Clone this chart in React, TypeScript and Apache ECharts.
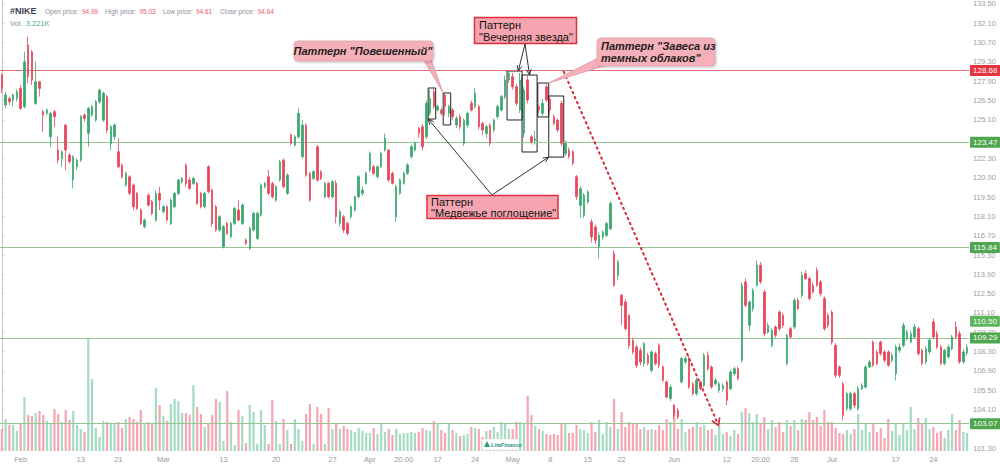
import React, { useEffect, useRef } from "react";
import * as echarts from "echarts";

// ---------- DATA ----------
// candles: [open, close, low, high]
const candles: number[][] = [
  [128.35,127.38,127.02,128.47],[126.17,126.90,125.93,127.14],[126.65,126.41,126.17,126.78],[126.53,126.90,126.05,127.00],
  [126.65,127.14,126.41,127.30],[127.38,125.93,125.81,127.62],[126.05,129.31,125.93,130.04],[130.52,128.23,127.74,131.13],
  [130.04,127.98,127.62,130.16],[126.29,127.86,126.17,129.31],[127.86,127.38,126.78,127.91],[125.69,125.45,124.24,125.81],
  [125.57,125.81,125.45,125.93],[123.87,125.57,123.15,125.69],[125.69,125.33,124.60,125.81],[122.91,122.18,121.94,123.87],
  [122.30,122.79,121.70,122.86],[124.72,122.91,121.46,124.77],[122.55,122.06,121.94,122.67],[120.73,122.43,120.13,122.55],
  [121.70,122.18,121.46,122.30],[122.18,125.33,122.06,125.45],[125.45,125.20,124.96,125.57],[124.12,125.93,123.15,126.05],
  [125.45,126.05,125.33,126.17],[125.08,126.41,124.96,126.53],[126.41,127.26,126.29,127.38],[125.08,127.02,124.96,127.14],
  [126.78,124.36,124.12,126.90],[123.39,124.60,122.91,124.72],[123.87,124.72,123.63,124.84],[122.79,121.70,121.58,123.75],
  [121.82,120.97,120.85,121.94],[120.37,121.22,120.25,121.34],[120.97,119.77,119.64,121.09],[120.37,118.80,118.56,120.49],
  [119.77,118.68,118.56,119.89],[118.56,117.59,117.47,118.68],[117.35,117.83,117.23,117.95],[119.64,118.92,118.80,119.77],
  [119.16,118.32,118.19,119.28],[117.83,119.77,117.71,120.01],[119.77,119.28,118.56,120.25],[118.44,118.80,118.32,118.92],
  [118.80,117.83,117.71,118.92],[117.59,119.28,117.47,119.40],[118.80,119.77,118.68,119.89],[119.77,120.73,119.64,120.85],
  [120.61,120.85,120.49,120.97],[121.82,120.49,120.25,121.94],[120.73,120.13,120.01,120.97],[120.49,120.85,120.37,120.97],
  [120.49,119.04,118.92,120.61],[119.77,118.80,118.68,119.89],[118.80,119.77,118.68,119.89],[121.70,119.89,119.77,121.82],
  [120.01,117.59,117.35,120.13],[118.80,117.11,116.99,118.92],[117.11,118.07,116.99,118.19],[115.90,117.35,115.78,117.47],
  [117.59,116.86,116.74,117.71],[116.62,117.59,116.50,117.71],[117.59,118.68,117.47,118.80],[118.56,117.83,117.71,119.28],
  [117.59,118.92,117.47,119.04],[116.38,116.14,116.02,116.50],[115.78,117.23,115.66,117.35],[117.11,118.32,116.99,118.44],
  [116.50,118.32,116.38,118.44],[118.19,120.37,118.07,120.49],[120.25,120.49,120.13,120.61],[120.97,119.77,119.64,121.46],
  [120.49,119.52,119.40,120.61],[119.28,120.25,119.16,120.37],[120.73,122.06,120.61,122.18],[122.18,120.25,120.13,122.30],
  [119.77,121.09,119.64,121.22],[124.00,123.39,123.27,124.12],[123.27,123.87,123.15,124.00],[123.87,125.57,123.75,125.93],
  [122.43,124.72,122.30,125.08],[124.72,121.09,120.97,124.84],[121.22,119.28,119.16,121.34],[120.85,121.34,120.73,121.46],
  [123.15,120.73,120.61,123.27],[121.34,120.85,120.73,121.46],[119.52,120.49,119.40,120.61],[120.49,119.52,119.40,120.61],
  [119.52,120.61,119.40,120.73],
  [120.50,118.08,117.60,120.74],[117.60,118.44,117.35,118.60],[118.08,117.11,116.90,118.20],[117.60,116.87,116.70,117.70],
  [118.08,118.80,117.95,118.90],[118.56,119.52,118.45,119.60],[119.52,120.98,119.40,121.10],[119.77,120.01,119.60,120.30],
  [120.50,121.22,120.40,121.35],[121.46,122.67,121.30,122.80],[121.70,121.22,121.10,121.85],[120.98,121.70,120.85,121.80],
  [121.70,122.67,121.60,122.80],[122.91,123.76,122.80,124.10],[122.91,120.74,120.60,123.00],[121.22,120.50,120.40,121.35],
  [118.08,120.26,117.70,120.40],[119.77,120.74,119.65,120.85],[120.50,121.22,120.40,121.35],[121.22,121.83,121.10,121.95],
  [122.43,123.15,122.30,123.30],[122.91,123.40,122.80,123.55],[124.48,124.12,123.80,124.60],[124.60,123.15,122.90,124.80],
  [123.88,126.30,123.70,126.50],[125.57,126.66,125.40,127.30],[127.14,126.06,125.90,127.35],[125.81,126.06,125.70,126.20],
  [125.81,125.57,125.40,126.00],[126.90,126.06,125.40,127.00],[125.57,126.06,125.30,126.20],[125.81,125.33,125.10,125.95],
  [124.72,125.20,124.50,125.40],[125.33,124.60,124.40,125.50],[123.40,125.08,123.20,125.20],[124.72,125.57,124.50,125.70],
  [126.30,125.81,125.70,126.50],[126.06,127.02,125.90,127.40],[126.06,124.60,124.40,126.20],[124.84,124.36,124.00,124.95],
  [124.12,124.60,123.80,124.75],[124.72,123.40,123.20,124.85],[124.36,125.08,124.20,125.20],[125.33,126.06,125.20,126.20],
  [125.81,126.78,125.70,126.90],[126.78,127.99,126.60,128.30],[127.99,128.47,127.80,128.60],[128.23,127.50,127.30,128.50],
  [127.50,126.30,126.10,127.70],[125.81,127.99,125.60,128.50],[124.12,127.26,123.80,127.50],[127.99,126.54,126.30,128.30],
  [123.88,123.52,123.30,124.00],[123.60,123.70,123.30,124.30],[126.06,125.81,125.60,126.20],[125.57,126.30,125.40,126.60],
  [127.50,126.54,126.40,127.70],[126.60,125.81,125.60,126.75],[125.33,124.84,124.70,125.50],[125.08,124.36,124.20,125.20],
  [126.30,123.40,123.20,126.50],[122.67,123.40,122.50,123.60],[122.91,122.43,122.30,123.10],[122.79,121.95,121.80,122.90],
  [120.98,119.52,119.30,121.10],
  [118.90,120.10,118.00,120.30],[118.18,119.63,118.00,119.80],[119.15,119.87,119.00,120.00],[117.70,116.60,116.20,117.90],
  [117.33,116.37,116.10,117.50],[115.90,116.73,115.04,116.90],[116.60,116.97,116.40,117.10],[116.73,117.58,116.60,117.70],
  [117.21,119.03,117.10,119.20],[115.40,113.10,113.00,115.60],[113.83,114.80,113.50,114.95],[112.38,111.66,110.20,112.50],
  [111.90,109.96,109.80,112.10],[110.93,108.75,108.50,111.00],[109.10,108.27,108.10,109.30],[108.63,107.30,107.10,108.80],
  [108.39,107.55,107.30,108.60],[107.43,108.87,107.20,109.00],[108.03,107.43,107.30,108.20],[106.94,108.27,106.80,108.40],
  [108.15,107.43,107.30,108.30],[108.75,107.30,107.10,108.90],[107.18,106.22,106.10,107.30],[106.10,105.00,104.90,106.20],
  [104.89,105.73,104.70,105.90],[104.40,103.68,103.40,104.50],[104.04,103.56,103.40,104.20],[106.10,107.79,106.00,107.90],
  [107.55,107.79,107.40,108.00],[107.67,105.73,105.60,108.00],[105.97,105.25,105.10,106.10],[105.25,106.22,105.10,106.40],
  [106.10,105.61,105.50,106.20],[105.85,108.03,105.70,108.20],[108.03,107.06,106.90,108.30],[107.18,105.73,105.60,107.30],
  [105.97,106.22,105.80,106.40],[105.49,105.97,105.30,106.10],[105.61,105.85,105.40,106.00],[106.10,104.77,104.40,106.20],
  [105.61,106.82,105.50,107.00],[106.70,107.06,106.50,107.20],[107.06,106.34,106.20,107.20],[107.67,113.10,107.50,113.30],
  [113.35,111.66,111.50,113.60],[110.20,111.90,109.80,112.00],[111.41,112.74,111.20,112.90],[113.10,114.55,113.00,114.90],
  [114.55,113.35,113.20,114.80],[112.62,109.60,109.40,112.80],[109.72,110.20,109.60,110.40],[108.75,109.84,108.60,110.00],
  [110.08,109.48,109.30,110.20],[111.17,109.96,109.80,111.30],[110.93,110.20,110.00,111.10],[107.43,109.48,107.30,109.60],
  [109.96,109.36,109.20,110.10],[110.08,112.02,109.90,112.20],[112.02,111.41,111.30,112.20],[112.38,113.83,112.20,114.10],
  [113.95,113.59,113.50,114.20],[113.59,112.14,112.00,113.70],[113.10,112.62,112.50,113.30],[114.20,113.10,113.00,114.40],
  [113.35,112.50,112.30,113.50],[112.14,109.96,109.80,112.30],[110.93,110.20,110.00,111.10],[111.17,108.99,108.80,111.30],
  [108.75,106.58,106.40,108.90],[107.18,106.58,106.40,107.30],[105.97,103.68,103.30,106.10],[104.16,105.25,104.00,105.40],
  [104.16,105.25,104.00,105.40],[105.25,104.40,104.20,105.40],[104.16,105.61,104.00,105.80],[105.61,105.85,105.50,106.00],
  [105.73,107.18,105.60,107.30],[107.18,107.55,107.10,107.70],[108.99,107.30,107.20,109.10],[108.27,107.43,107.30,108.40],
  [108.99,108.15,108.00,109.10],[108.27,107.67,107.50,108.40],[108.27,107.30,107.20,108.40],[107.67,108.03,107.50,108.20],
  [106.70,108.63,106.20,108.80],[108.39,108.63,108.20,108.90],[108.75,110.20,108.60,110.40],[109.24,109.72,109.10,109.90],
  [108.99,109.60,108.90,109.80],[109.36,110.08,109.20,110.30],[109.96,108.15,108.00,110.10],[108.39,107.43,107.30,108.50],
  [107.55,108.51,107.40,108.70],[108.27,109.12,108.10,109.30],[110.45,109.36,109.20,110.70],[109.60,108.63,108.50,109.80],
  [108.63,107.43,107.30,108.80],[107.43,108.39,107.30,108.50],[107.91,108.63,107.80,108.80],[108.51,109.36,108.40,109.50],
  [110.08,109.36,109.20,110.50],[109.60,107.55,107.40,109.80],[107.55,108.27,107.40,108.50],[108.20,108.60,108.00,108.80],
];

// volume, thousands
const volumes: number[] = [
  4.4,6.4,5.2,5.2,4.0,5.4,10.8,7.2,7.0,7.6, 8.0,7.2,6.0,5.4,8.4,7.4,5.8,8.2,6.2,8.0,
  5.2,4.4,3.8,22.6,14.4,4.6,2.8,6.0,5.8,5.4, 5.4,5.8,4.6,6.4,6.8,6.4,5.8,8.2,5.4,5.8,
  5.4,12.6,9.2,7.0,6.0,9.4,10.4,10.0,7.6,7.6, 7.2,13.2,8.8,7.4,4.8,5.6,7.2,10.4,9.8,2.0,
  12.0,5.8,1.2,8.2,7.0,1.6,9.2,7.8,1.4,8.2, 5.2,1.4,10.2,6.0,1.4,6.4,4.2,1.4,6.4,4.4,
  2.0,7.4,9.4,1.4,8.8,7.4,1.4,8.6,4.4,5.6, 4.4,5.0,4.4,4.2,3.8,4.6,4.0,3.6,3.6,4.6,
  3.4,5.6,3.8,4.4,3.2,4.4,3.4,3.6,3.6,3.8, 3.6,3.8,4.6,4.2,4.0,6.0,5.6,4.2,3.6,5.4,
  4.2,3.6,3.0,3.2,3.4,4.8,4.6,4.4,2.8,4.0, 4.2,4.8,
  3.8,5.8,5.4,4.4,4.4,5.8,5.8,5.6,11.0,7.2, 5.0,4.4,4.0,3.4,3.2,3.4,3.2,5.6,5.6,3.6,
  3.6,5.2,4.4,4.2,3.6,5.8,3.8,6.2,3.4,5.8, 4.8,10.4,4.4,7.8,4.8,5.8,5.4,5.6,4.4,4.8,
  4.2,4.4,4.2,5.2,4.2,6.4,5.8,9.2,4.4,6.4, 3.8,4.4,4.8,5.8,4.8,5.2,4.2,4.4,3.2,5.0,
  3.4,3.8,3.0,4.2,3.4,7.8,8.6,7.6,5.8,7.4, 5.6,6.8,4.4,6.2,4.8,5.8,3.8,6.2,5.0,6.2,
  4.2,6.4,6.2,7.8,6.2,6.8,5.0,8.2,5.8,5.8, 4.6,3.6,3.4,4.2,3.4,4.4,7.4,4.2,5.4,3.8,
  5.4,3.8,4.6,2.6,6.4,4.0,5.4,3.2,5.4,4.2, 8.8,4.4,6.6,5.4,6.6,4.4,4.8,3.6,4.0,2.6,
  4.2,7.4,4.2,6.2,3.8,3.6,
];

const xTickIndex = [5, 21, 31, 43, 59, 73, 88, 98, 107, 116, 126, 136, 146, 156, 165, 179, 193, 202, 211, 221, 238, 248];
const xTickLabels = ["Feb", "13", "21", "Mar", "13", "20", "27", "Apr", "20:00", "17", "24", "May", "8", "15", "22", "Jun", "12", "20:00", "26", "Jul", "17", "24"];

// price-axis ticks (every 1.4); the labels hidden under the level tags in the picture are left out
const yTickValues = [101.3, 102.7, 104.1, 105.5, 106.9, 108.3, 109.7, 111.1, 112.5, 113.9, 115.3, 116.7,
  118.1, 119.5, 120.9, 122.3, 123.7, 125.1, 126.5, 127.9, 129.3, 130.7, 132.1, 133.5];
const yHiddenLabels = [102.7, 123.7];

const resistancePrices = [128.68];
const supportPrices = [123.47, 115.84, 109.29, 103.07];
const lastPrice = 110.5;

// pattern boxes: [xFrom, xTo, priceLow, priceHigh] (x in candle index units)
const patternBoxes = [
  [113.5, 115.5, 125.16, 127.41],
  [117.5, 119.5, 124.73, 127.05],
  [134.5, 138.5, 125.09, 128.64],
  [138.5, 142.5, 122.77, 128.35],
  [142.7, 145.6, 125.31, 127.77],
  [145.6, 149.6, 122.4, 126.83],
];
const trendFrom = [149.6, 128.59];
const trendTo = [190.5, 103.14];

const headerFields = [
  ["Open price:", "94.99"],
  ["High price:", "95.03"],
  ["Low price:", "94.61"],
  ["Close price:", "94.64"],
];
const volumeLabel = "3.221K";

// ---------- STYLE ----------
const FONT = 'Arial, "Liberation Sans", Helvetica, sans-serif';
const UP = "#3aa870";
const DOWN = "#e8475c";
const VUP = "#a4dbc2";
const VDOWN = "#f6a6b1";
const RES_LINE = "#e06c7e";
const SUP_LINE = "#95c495";
const RES_TAG = "#e8323f";
const SUP_TAG = "#4ea64e";
const BUBBLE = "#f5b0b9";
const BOX_FILL = "#f6a5b0";
const BOX_BORDER = "#e0303d";

function arrowHead(x1: number, y1: number, x2: number, y2: number, len = 6, ang = 0.42) {
  const a = Math.atan2(y2 - y1, x2 - x1);
  return [
    [x2 - len * Math.cos(a - ang), y2 - len * Math.sin(a - ang)],
    [x2, y2],
    [x2 - len * Math.cos(a + ang), y2 - len * Math.sin(a + ang)],
  ];
}

export default function App() {
  const ref = useRef<HTMLDivElement>(null);

  useEffect(() => {
    const chart = echarts.init(ref.current!, null, { renderer: "svg" });
    const N = candles.length;
    const categories = candles.map((_, i) => String(i));
    const labelAt: Record<number, string> = {};
    xTickIndex.forEach((idx, k) => (labelAt[idx] = xTickLabels[k]));

    const tag = (p: number, bg: string) => ({
      show: true,
      position: "end",
      formatter: p.toFixed(2),
      backgroundColor: bg,
      color: "#fff",
      fontSize: 8,
      fontFamily: FONT,
      padding: [2, 3, 1, 3],
      distance: 1,
      borderRadius: 1,
    });

    const levelLines = [
      ...resistancePrices.map((p) => ({ yAxis: p, lineStyle: { color: RES_LINE, width: 1, type: "solid" }, label: tag(p, RES_TAG) })),
      ...supportPrices.map((p) => ({ yAxis: p, lineStyle: { color: SUP_LINE, width: 1, type: "solid" }, label: tag(p, SUP_TAG) })),
      { yAxis: lastPrice, lineStyle: { color: "rgba(0,0,0,0)", width: 1 }, label: tag(lastPrice, "#5bb55b") },
    ];

    const option: any = {
      animation: false,
      textStyle: { fontFamily: FONT },
      grid: { left: 0, right: 31, top: 0, bottom: 16, outerBoundsMode: "none" },
      xAxis: [
        {
          type: "category",
          data: categories,
          boundaryGap: true,
          axisLine: { show: false },
          axisTick: { show: false },
          splitLine: { show: false },
          axisLabel: {
            interval: (i: number) => labelAt[i] !== undefined,
            formatter: (_v: string, i: number) => labelAt[i] ?? "",
            color: "#9a9a9a",
            fontSize: 7.5,
            margin: 4,
          },
        },
        { type: "value", min: -0.5, max: N - 0.5, show: false },
      ],
      yAxis: [
        {
          type: "value",
          position: "right",
          min: 101.09,
          max: 133.79,
          axisLine: { show: true, lineStyle: { color: "#c8c8c8" } },
          axisTick: { show: true, length: 2, customValues: yTickValues, lineStyle: { color: "#c8c8c8" } },
          axisLabel: {
            customValues: yTickValues.filter((v) => !yHiddenLabels.includes(v)),
            formatter: (v: number) => v.toFixed(2),
            color: "#a0a0a0",
            fontSize: 7.5,
            margin: 4,
          },
          splitLine: { show: false },
        },
        { type: "value", min: 0, max: 90.2, show: false },
      ],
      series: [
        {
          type: "bar",
          name: "Volume",
          xAxisIndex: 0,
          yAxisIndex: 1,
          barWidth: 2.2,
          z: 1,
          data: volumes.slice(0, N).map((v, i) => ({
            value: v,
            itemStyle: { color: candles[i][1] >= candles[i][0] ? VUP : VDOWN },
          })),
        },
        {
          type: "candlestick",
          name: "NIKE",
          xAxisIndex: 0,
          yAxisIndex: 0,
          barWidth: 2,
          z: 3,
          data: candles,
          itemStyle: { color: UP, color0: DOWN, borderColor: UP, borderColor0: DOWN, borderWidth: 0.8 },
          markLine: { symbol: "none", silent: true, z: 2, data: levelLines },
        },
        {
          type: "line",
          name: "annotations",
          xAxisIndex: 1,
          yAxisIndex: 0,
          data: [],
          z: 4,
          markArea: {
            silent: true,
            itemStyle: { color: "rgba(0,0,0,0)", borderColor: "#222", borderWidth: 1 },
            data: patternBoxes.map((b) => [{ coord: [b[0], b[3]] }, { coord: [b[1], b[2]] }]),
          },
          markLine: {
            silent: true,
            symbol: ["none", "path://M5,0 L10,9 L8.6,10 L5,3.6 L1.4,10 L0,9 Z"],
            symbolSize: [10, 9],
            label: { show: false },
            lineStyle: { color: "#d62a3c", width: 2, type: [1.5, 4], cap: "round" },
            data: [[{ coord: trendFrom }, { coord: trendTo }]],
          },
        },
      ],
    };
    chart.setOption(option);

    const px = (x: number, y: number) => chart.convertToPixel({ seriesIndex: 2 }, [x, y]) as number[];
    const [bA, bB, bC, bD, bE, bF] = patternBoxes;
    const aBL = px(bA[0], bA[2]);
    const bTL = px(bB[0], bB[3]);
    const cTR = px(bC[1] - 1, bC[3]);
    const dT = px(bD[0] + 2, bD[3]);
    const eTR = px(bE[1], bE[3]);
    const fBL = px(bF[0], bF[2]);

    const g: any[] = [];
    // header
    g.push({ type: "text", x: 10, y: 11, style: { text: "#NIKE", fontSize: 9, fontWeight: "bold", fill: "#3b4150", verticalAlign: "middle", fontFamily: FONT } });
    const hx = [45, 105, 163, 220];
    headerFields.forEach((f, i) =>
      g.push({
        type: "text", x: hx[i], y: 11,
        style: {
          text: `{k|${f[0]}} {v|${f[1]}}`, verticalAlign: "middle", fontFamily: FONT,
          rich: { k: { fill: "#8a8f99", fontSize: 6.5, fontFamily: FONT }, v: { fill: "#e8576b", fontSize: 6.5, fontFamily: FONT } },
        },
      })
    );
    g.push({
      type: "text", x: 10, y: 23,
      style: {
        text: `{k|Vol.} {v|${volumeLabel}}`, verticalAlign: "middle", fontFamily: FONT,
        rich: { k: { fill: "#8a8f99", fontSize: 7.5, fontFamily: FONT }, v: { fill: "#4cae7e", fontSize: 7.5, fontFamily: FONT } },
      },
    });

    // callout 1: hanging man
    g.push({ type: "polygon", shape: { points: [[423, 59], [431, 59], bTL] }, style: { fill: BUBBLE, stroke: "#d99aa3", lineWidth: 0.8 } });
    g.push({ type: "rect", shape: { x: 294, y: 41, width: 139, height: 20, r: 4 }, style: { fill: BUBBLE, stroke: "#d9a5ac", lineWidth: 0.8, shadowBlur: 2, shadowColor: "rgba(0,0,0,0.25)", shadowOffsetX: 1, shadowOffsetY: 1 } });
    g.push({ type: "text", x: 363, y: 51, style: { text: 'Паттерн "Повешенный"', fontSize: 11, fontWeight: "bold", fontStyle: "italic", fill: "#1e1e1e", align: "center", verticalAlign: "middle", fontFamily: FONT } });

    // callout 2: evening star
    g.push({ type: "rect", shape: { x: 474.5, y: 17.5, width: 102, height: 26 }, style: { fill: BOX_FILL, stroke: BOX_BORDER, lineWidth: 1.5 } });
    g.push({ type: "text", x: 479, y: 19, style: { text: 'Паттерн\n"Вечерняя звезда"', fontSize: 11, lineHeight: 12, fill: "#111", align: "left", verticalAlign: "top", fontFamily: FONT } });
    const esFrom = [525, 44];
    [cTR, dT].forEach((t) => {
      g.push({ type: "line", shape: { x1: esFrom[0], y1: esFrom[1], x2: t[0], y2: t[1] }, style: { stroke: "#333", lineWidth: 1 } });
      g.push({ type: "polyline", shape: { points: arrowHead(esFrom[0], esFrom[1], t[0], t[1], 6) }, style: { stroke: "#333", lineWidth: 1, fill: "none" } });
    });

    // callout 3: dark cloud cover
    g.push({ type: "polygon", shape: { points: [[598, 58], [607, 65], eTR] }, style: { fill: BUBBLE, stroke: "#d99aa3", lineWidth: 0.8 } });
    g.push({ type: "rect", shape: { x: 597, y: 38, width: 118, height: 28, r: 4 }, style: { fill: BUBBLE, stroke: "#d9a5ac", lineWidth: 0.8, shadowBlur: 2, shadowColor: "rgba(0,0,0,0.25)", shadowOffsetX: 1, shadowOffsetY: 1 } });
    g.push({ type: "text", x: 601, y: 52, style: { text: 'Паттерн "Завеса из\nтемных облаков"', fontSize: 11, lineHeight: 11.5, fontWeight: "bold", fontStyle: "italic", fill: "#1e1e1e", align: "left", verticalAlign: "middle", fontFamily: FONT } });

    // callout 4: bearish engulfing
    const beFrom = [492, 195];
    [aBL, fBL].forEach((t) => {
      g.push({ type: "line", shape: { x1: beFrom[0], y1: beFrom[1], x2: t[0], y2: t[1] }, style: { stroke: "#333", lineWidth: 1 } });
      g.push({ type: "polyline", shape: { points: arrowHead(beFrom[0], beFrom[1], t[0], t[1], 6) }, style: { stroke: "#333", lineWidth: 1, fill: "none" } });
    });
    g.push({ type: "rect", shape: { x: 427, y: 195.5, width: 131, height: 23 }, style: { fill: BOX_FILL, stroke: BOX_BORDER, lineWidth: 1.5 } });
    g.push({ type: "text", x: 431, y: 196.5, style: { text: 'Паттерн\n"Медвежье поглощение"', fontSize: 11, lineHeight: 11, fill: "#111", align: "left", verticalAlign: "top", fontFamily: FONT } });

    // logo
    g.push({ type: "rect", shape: { x: 482, y: 439, width: 37, height: 11, r: 1 }, style: { fill: "#fff", stroke: "#dedede", lineWidth: 0.6 } });
    g.push({ type: "polygon", shape: { points: [[484, 447], [487, 441], [490, 447]] }, style: { fill: "#2f9e6e" } });
    g.push({ type: "text", x: 491, y: 444.5, style: { text: "LiteFinance", fontSize: 5.5, fontStyle: "italic", fontWeight: "bold", fill: "#2a8f86", verticalAlign: "middle", fontFamily: FONT } });

    chart.setOption({ graphic: g.map((e) => ({ ...e, z: 100 })) });

    return () => chart.dispose();
  }, []);

  return (
    <div
      ref={ref}
      style={{ position: "fixed", left: 0, top: 0, width: 1000, height: 467, background: "#fff" }}
    />
  );
}
